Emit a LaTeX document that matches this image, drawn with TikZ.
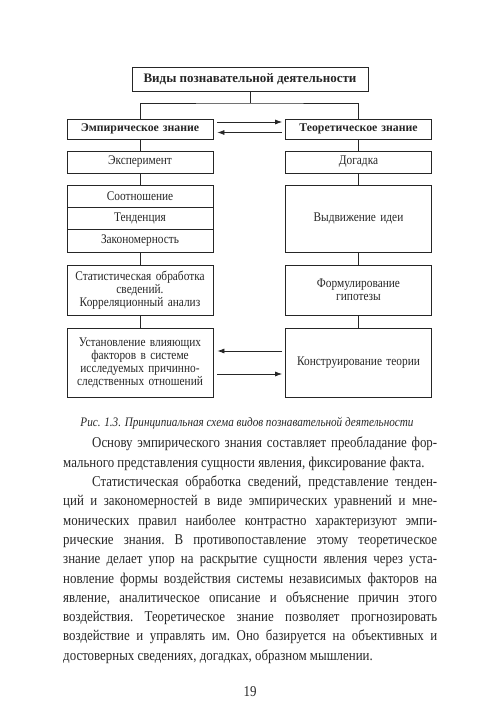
\documentclass[tikz,border=0pt]{standalone}
\usepackage{fontspec}
\setmainfont{Liberation Serif}[FakeStretch=0.86]
\newfontfamily\hdfont{Liberation Serif}
\usetikzlibrary{arrows.meta}
\begin{document}
\begin{tikzpicture}
[x=1pt,y=-1pt,
every node/.style={text=black!85},
ttl/.style={rectangle,draw=black!85,line width=0.75pt,inner sep=2pt,minimum width=236pt,minimum height=24pt,font=\hdfont\fontsize{13}{14}\selectfont\bfseries},
kind/.style={rectangle,draw=black!85,line width=0.75pt,inner sep=2pt,text width=142pt,align=center,minimum height=20pt,font=\hdfont\fontsize{11.8}{13}\selectfont\bfseries},
cell/.style={rectangle,draw=black!85,line width=0.75pt,inner sep=2pt,text width=142pt,align=center,font=\fontsize{13.2}{13}\selectfont},
link/.style={draw=black!85,line width=0.75pt},
flow/.style={draw=black!85,line width=0.75pt,-{Latex[length=7pt,width=5pt]}}]
\useasboundingbox (0,0) rectangle (500,712);
% heading and two kinds of knowledge
\node at (250,79) [ttl] (vid) {Виды познавательной деятельности};
\node at (140,129) [kind] (emp) {Эмпирическое знание};
\node at (358.5,129) [kind] (teo) {Теоретическое знание};
\coordinate (fork) at (250,103);
\draw[link] (vid.south) -- (fork);
\draw[link] (emp.north) |- (fork) -| (teo.north);
\draw[flow] ([xshift=4pt,yshift=7pt]emp.east) -- ([xshift=-3pt,yshift=7pt]teo.west);
\draw[flow] ([xshift=-3pt,yshift=-3.5pt]teo.west) -- ([xshift=4pt,yshift=-3.5pt]emp.east);
% left column
\node at (140,162) [cell,minimum height=22pt] (eks) {Эксперимент};
\node at (140,196) [cell,minimum height=22pt] (sot) {Соотношение};
\node at (140,218) [cell,minimum height=22pt] (ten) {Тенденция};
\node at (140,240.5) [cell,minimum height=23pt] (zak) {Закономерность};
\node at (140,290) [cell,minimum height=50pt] (sta) {Статистическая обработка\\сведений.\\Корреляционный анализ};
\node at (140,362.5) [cell,minimum height=69pt] (ust) {Установление влияющих\\факторов в системе\\исследуемых причинно-\\следственных отношений};
% right column
\node at (358.5,162) [cell,minimum height=22pt] (dog) {Догадка};
\node at (358.5,218.5) [cell,minimum height=67pt] (idi) {Выдвижение идеи};
\node at (358.5,290) [cell,minimum height=50pt] (gip) {Формулирование\\гипотезы};
\node at (358.5,362.5) [cell,minimum height=69pt] (kon) {Конструирование теории};
\draw[link] (emp) -- (eks);
\draw[link] (eks) -- (sot);
\draw[link] (zak) -- (sta);
\draw[link] (sta) -- (ust);
\draw[link] (teo) -- (dog);
\draw[link] (dog) -- (idi);
\draw[link] (idi) -- (gip);
\draw[link] (gip) -- (kon);
\draw[flow] ([xshift=-3pt,yshift=11.5pt]kon.west) -- ([xshift=4pt,yshift=11.5pt]ust.east);
\draw[flow] ([xshift=4pt,yshift=-11.5pt]ust.east) -- ([xshift=-3pt,yshift=-11.5pt]kon.west);
% caption, text and page number
\node at (247,423) [font=\fontsize{13}{14}\selectfont\itshape] (cap) {Рис. 1.3. Принципиальная схема видов познавательной деятельности};
\node at (63,437) [anchor=north west,inner sep=0pt,text width=374pt,align=justify,font=\fontsize{15}{19.3}\selectfont\frenchspacing] (txt)
{\hspace*{29pt}Основу эмпирического знания составляет преобладание фор-\linebreak
мального представления сущности явления, фиксирование факта.\par
\hspace*{29pt}Статистическая обработка сведений, представление тенден-\linebreak
ций и закономерностей в виде эмпирических уравнений и мне-\linebreak
монических правил наиболее контрастно характеризуют эмпи-\linebreak
рические знания. В противопоставление этому теоретическое\linebreak
знание делает упор на раскрытие сущности явления через уста-\linebreak
новление формы воздействия системы независимых факторов на\linebreak
явление, аналитическое описание и объяснение причин этого\linebreak
воздействия. Теоретическое знание позволяет прогнозировать\linebreak
воздействие и управлять им. Оно базируется на объективных и\linebreak
достоверных сведениях, догадках, образном мышлении.};
\node at (250,692) [font=\fontsize{15}{16}\selectfont] (num) {19};
\end{tikzpicture}
\end{document}
